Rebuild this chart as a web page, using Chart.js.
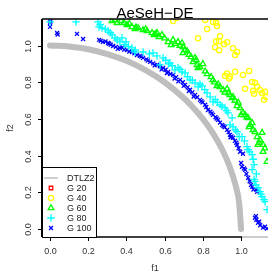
<!DOCTYPE html>
<html>
<head>
<meta charset="utf-8">
<script src="https://cdn.jsdelivr.net/npm/chart.js@4.4.1/dist/chart.umd.min.js"></script>
<style>
  html, body { margin: 0; padding: 0; background: #fff; overflow: hidden; }
  canvas { display: block; }
</style>
</head>
<body>
<canvas id="chart" width="268" height="273"></canvas>
<script>
// series names and axis ticks
const seriesNames = ['DTLZ2', 'G 20', 'G 40', 'G 60', 'G 80', 'G 100'];
const tickValues = [0, 0.2, 0.4, 0.6, 0.8, 1.0];
const tickLabels = ['0.0', '0.2', '0.4', '0.6', '0.8', '1.0'];

// true front
const dtlz2F1 = [0, 0.05, 0.1, 0.2, 0.3, 0.4, 0.5, 0.6, 0.7, 0.75, 0.8, 0.85, 0.9, 0.94, 0.97, 0.99, 1.0];
const dtlz2F2 = [1, 0.999, 0.995, 0.98, 0.954, 0.917, 0.866, 0.8, 0.714, 0.661, 0.6, 0.527, 0.436, 0.341, 0.243, 0.141, 0];

// generation 20 lies outside the plotted window
const g20F1 = [];
const g20F2 = [];

const g40F1 = [0.644, 0.660, 0.812, 0.853, 0.869, 0.874, 0.822, 0.775, 0.890, 0.885, 0.869, 0.864, 0.885, 0.911, 0.927,
  0.958, 0.979, 0.969, 0.927, 0.942, 0.937, 0.916, 0.969, 1.010, 1.042, 1.058, 1.073, 1.084, 1.063, 1.099, 1.110,
  1.126, 1.131, 1.120, 1.021, 1.068];
const g40F2 = [1.134, 1.150, 1.140, 1.129, 1.124, 1.107, 1.091, 1.040, 1.051, 1.024, 1.024, 0.991, 0.975, 1.007, 1.018,
  0.986, 0.965, 0.948, 0.848, 0.831, 0.820, 0.835, 0.857, 0.840, 0.862, 0.802, 0.797, 0.775, 0.753, 0.758, 0.742,
  0.748, 0.720, 0.704, 0.764, 0.737];

const g60F1 = [0.325, 0.351, 0.387, 0.403, 0.429, 0.445, 0.461, 0.487, 0.508, 0.534, 0.545, 0.560, 0.571, 0.586, 0.618,
  0.634, 0.644, 0.670, 0.691, 0.696, 0.707, 0.696, 0.738, 0.759, 0.749, 0.770, 0.775, 0.785, 0.822, 0.843, 0.853,
  0.874, 0.890, 0.906, 0.927, 0.942, 0.958, 0.979, 0.995, 1.010, 1.021, 1.037, 1.047, 1.058, 1.073, 1.084, 1.099,
  1.110, 1.115, 1.089, 1.115, 1.136, 0.953, 1.000, 1.042, 0.340, 0.372, 0.450,
  0.415, 0.500, 0.552, 0.600, 0.655, 0.680, 0.718, 0.728, 0.765, 0.800, 0.812, 0.860, 0.880, 0.915, 0.935, 0.968,
  0.985, 1.030, 1.063, 1.094, 1.125];
const g60F2 = [1.135, 1.124, 1.124, 1.113, 1.102, 1.091, 1.096, 1.085, 1.080, 1.069, 1.058, 1.069, 1.047, 1.058, 1.020,
  1.003, 1.031, 1.020, 1.014, 0.992, 0.976, 0.960, 0.938, 0.933, 0.911, 0.895, 0.878, 0.884, 0.845, 0.829, 0.813,
  0.780, 0.775, 0.758, 0.764, 0.731, 0.720, 0.671, 0.660, 0.633, 0.622, 0.605, 0.567, 0.578, 0.529, 0.502, 0.486,
  0.525, 0.459, 0.459, 0.421, 0.367, 0.715, 0.622, 0.556, 1.140, 1.135, 1.100,
  1.120, 1.090, 1.064, 1.040, 1.010, 1.000, 0.970, 0.950, 0.922, 0.900, 0.860, 0.800, 0.790, 0.745, 0.740, 0.700,
  0.690, 0.610, 0.540, 0.470, 0.440];

const g80F1 = [0.000, 0.136, 0.251, 0.257, 0.272, 0.304, 0.325, 0.340, 0.351, 0.377, 0.366, 0.398, 0.429, 0.445, 0.445,
  0.487, 0.539, 0.560, 0.592, 0.576, 0.628, 0.654, 0.691, 0.707, 0.733, 0.759, 0.775, 0.796, 0.822, 0.838, 0.853,
  0.890, 0.916, 0.932, 0.953, 0.942, 0.958, 0.979, 0.990, 1.005, 1.031, 1.037, 1.058, 1.068, 1.058, 1.068, 1.073,
  1.089, 1.099, 1.110, 1.126, 1.136, 0.670, 0.620, 0.865, 1.078, 1.120,
  0.262, 0.290, 0.315, 0.388, 0.410, 0.520, 0.605, 0.640, 0.680, 0.720, 0.745, 0.785, 0.810, 0.875, 0.900, 0.925,
  0.970, 1.018, 1.045, 1.063, 1.080, 1.104];
const g80F2 = [1.129, 1.129, 1.129, 1.102, 1.096, 1.080, 1.058, 1.042, 1.031, 1.042, 1.020, 1.020, 0.987, 0.976, 0.965,
  0.965, 0.960, 0.944, 0.933, 0.895, 0.906, 0.868, 0.857, 0.851, 0.813, 0.797, 0.775, 0.780, 0.742, 0.720, 0.693,
  0.677, 0.660, 0.633, 0.606, 0.568, 0.557, 0.530, 0.503, 0.503, 0.449, 0.432, 0.405, 0.351, 0.324, 0.270, 0.259,
  0.225, 0.203, 0.176, 0.149, 0.105, 0.880, 0.900, 0.705, 0.240, 0.160,
  1.115, 1.090, 1.070, 1.005, 0.995, 0.955, 0.920, 0.890, 0.870, 0.830, 0.810, 0.790, 0.760, 0.690, 0.670, 0.645,
  0.540, 0.480, 0.420, 0.380, 0.300, 0.190];

const g100F1 = [0.000, 0.000, 0.000, 0.037, 0.141, 0.173, 0.257, 0.277, 0.304, 0.330, 0.366, 0.403, 0.429, 0.455, 0.487,
  0.524, 0.560, 0.592, 0.618, 0.644, 0.681, 0.707, 0.733, 0.759, 0.785, 0.812, 0.827, 0.853, 0.880, 0.901, 0.927,
  0.942, 0.958, 0.979, 0.995, 1.005, 1.021, 1.037, 1.058, 1.084, 1.073, 1.089, 1.115, 1.136,
  0.290, 0.318, 0.345, 0.388, 0.415, 0.470, 0.505, 0.540, 0.575, 0.605, 0.630, 0.660, 0.695, 0.720, 0.745, 0.770,
  0.798, 0.840, 0.866, 0.890, 0.915, 0.935, 0.950, 0.968, 0.987, 1.015, 1.045, 1.065, 1.080, 1.100, 1.000, 1.080,
  0.003, 0.040, 0.266, 0.310, 0.355, 0.378, 0.442, 0.478, 0.512, 0.548, 0.584, 0.612, 0.652, 0.672, 0.700, 0.727,
  0.752, 0.792, 0.818, 0.846, 0.872, 0.908, 0.945, 0.975, 1.010, 1.028, 1.052, 1.078, 1.095, 1.125];
const g100F2 = [1.140, 1.124, 1.102, 1.069, 1.064, 1.036, 1.031, 1.020, 1.014, 0.998, 0.987, 0.976, 0.965, 0.949, 0.933,
  0.911, 0.895, 0.878, 0.856, 0.840, 0.813, 0.786, 0.759, 0.731, 0.704, 0.677, 0.649, 0.622, 0.595, 0.567, 0.540,
  0.513, 0.497, 0.459, 0.421, 0.339, 0.323, 0.279, 0.230, 0.203, 0.061, 0.034, 0.007, 0.002,
  1.022, 1.005, 0.993, 0.978, 0.968, 0.944, 0.925, 0.903, 0.887, 0.868, 0.845, 0.828, 0.800, 0.772, 0.745, 0.718,
  0.690, 0.640, 0.610, 0.580, 0.555, 0.528, 0.505, 0.480, 0.440, 0.330, 0.260, 0.215, 0.050, 0.020, 0.360, 0.215,
  1.132, 1.060, 1.026, 1.010, 0.982, 0.990, 0.958, 0.940, 0.918, 0.893, 0.870, 0.850, 0.820, 0.805, 0.780, 0.752,
  0.722, 0.697, 0.665, 0.630, 0.602, 0.560, 0.500, 0.470, 0.410, 0.300, 0.240, 0.070, 0.040, 0.012];

function toPoints(xs, ys) {
  return xs.map((x, i) => ({ x: x, y: ys[i] }));
}

const textFont = '"Liberation Sans", Arial, sans-serif';

// axes, labels, title and legend drawn R-style
const decorations = {
  id: 'decorations',
  afterDraw(chart) {
    const ctx = chart.ctx;
    const area = chart.chartArea;
    const xs = chart.scales.x;
    const ys = chart.scales.y;
    ctx.save();

    // box lines
    ctx.strokeStyle = '#000';
    ctx.lineWidth = 2;
    ctx.beginPath();
    ctx.moveTo(area.left, area.top);
    ctx.lineTo(area.left, area.bottom);
    ctx.stroke();
    ctx.lineWidth = 1.5;
    ctx.beginPath();
    ctx.moveTo(area.left, area.top);
    ctx.lineTo(area.right, area.top);
    ctx.moveTo(area.left, area.bottom);
    ctx.lineTo(xs.getPixelForValue(1.0) + 1, area.bottom);
    ctx.stroke();
    ctx.strokeStyle = '#999';
    ctx.lineWidth = 1;
    ctx.beginPath();
    ctx.moveTo(xs.getPixelForValue(1.0) + 1, area.bottom);
    ctx.lineTo(area.right, area.bottom);
    ctx.stroke();

    // ticks
    ctx.strokeStyle = '#000';
    ctx.lineWidth = 1;
    ctx.fillStyle = '#333';
    ctx.font = '9px ' + textFont;
    tickValues.forEach((v, i) => {
      const px = Math.round(xs.getPixelForValue(v)) + 0.5;
      ctx.beginPath();
      ctx.moveTo(px, area.bottom);
      ctx.lineTo(px, area.bottom + 4);
      ctx.stroke();
      ctx.textAlign = 'center';
      ctx.textBaseline = 'middle';
      ctx.fillText(tickLabels[i], px, 252);

      const py = Math.round(ys.getPixelForValue(v)) + 0.5;
      ctx.beginPath();
      ctx.moveTo(area.left, py);
      ctx.lineTo(area.left - 4, py);
      ctx.stroke();
      ctx.save();
      ctx.translate(29, py);
      ctx.rotate(-Math.PI / 2);
      ctx.fillText(tickLabels[i], 0, 0);
      ctx.restore();
    });

    // axis titles
    ctx.fillText('f1', 155, 269);
    ctx.save();
    ctx.translate(11, 128);
    ctx.rotate(-Math.PI / 2);
    ctx.fillText('f2', 0, 0);
    ctx.restore();

    // title
    ctx.fillStyle = '#000';
    ctx.font = '15px ' + textFont;
    ctx.textBaseline = 'alphabetic';
    ctx.fillText(chart.options.plugins.title.text, 155, 18);

    // legend
    const lx = area.left, ly = 167, lw = 54, lh = area.bottom - ly;
    ctx.fillStyle = '#fff';
    ctx.fillRect(lx, ly, lw, lh);
    ctx.strokeStyle = '#000';
    ctx.lineWidth = 1;
    ctx.strokeRect(lx + 0.5, ly + 0.5, lw, lh);
    ctx.font = '9px ' + textFont;
    ctx.textAlign = 'left';
    ctx.textBaseline = 'middle';
    chart.data.datasets.forEach((ds, i) => {
      const rowY = 178 + i * 10;
      const mx = 51;
      if (i === 0) {
        ctx.strokeStyle = ds.borderColor;
        ctx.lineWidth = 1.5;
        ctx.beginPath();
        ctx.moveTo(44, rowY);
        ctx.lineTo(58, rowY);
        ctx.stroke();
      } else {
        ctx.strokeStyle = ds.pointBorderColor;
        ctx.fillStyle = 'rgba(0,0,0,0)';
        ctx.lineWidth = ds.pointBorderWidth;
        Chart.helpers.drawPoint(ctx, {
          pointStyle: ds.pointStyle,
          radius: ds.pointRadius,
          borderWidth: ds.pointBorderWidth,
          rotation: 0
        }, mx, rowY);
      }
      ctx.fillStyle = '#222';
      ctx.fillText(ds.label, 67, rowY + 0.5);
    });

    ctx.restore();
  }
};

function scatterSet(i, xs, ys, color, style, radius) {
  return {
    type: 'scatter',
    label: seriesNames[i],
    data: toPoints(xs, ys),
    pointStyle: style,
    pointRadius: radius,
    pointBorderWidth: 1.3,
    pointBorderColor: color,
    pointBackgroundColor: 'rgba(0,0,0,0)',
    borderColor: color,
    backgroundColor: 'rgba(0,0,0,0)',
    showLine: false
  };
}

new Chart(document.getElementById('chart'), {
  data: {
    datasets: [
      {
        type: 'line',
        label: seriesNames[0],
        data: toPoints(dtlz2F1, dtlz2F2),
        borderColor: '#BEBEBE',
        borderWidth: 6,
        borderCapStyle: 'round',
        cubicInterpolationMode: 'monotone',
        pointRadius: 0,
        fill: false
      },
      scatterSet(1, g20F1, g20F2, '#FF0000', 'rect', 2.5),
      scatterSet(2, g40F1, g40F2, '#FFFF00', 'circle', 2.6),
      scatterSet(3, g60F1, g60F2, '#00FF00', 'triangle', 3.3),
      scatterSet(4, g80F1, g80F2, '#00FFFF', 'cross', 3.8),
      scatterSet(5, g100F1, g100F2, '#0000FF', 'crossRot', 2.8)
    ]
  },
  options: {
    responsive: false,
    animation: false,
    devicePixelRatio: 1,
    layout: { autoPadding: false, padding: { left: 42, top: 19, right: 0, bottom: 36 } },
    plugins: {
      legend: { display: false },
      tooltip: { enabled: false },
      title: { display: false, text: 'AeSeH\u2212DE' }
    },
    scales: {
      x: { type: 'linear', min: -0.042, max: 1.141, display: false },
      y: { type: 'linear', min: -0.044, max: 1.145, display: false }
    }
  },
  plugins: [decorations]
});
</script>
</body>
</html>
